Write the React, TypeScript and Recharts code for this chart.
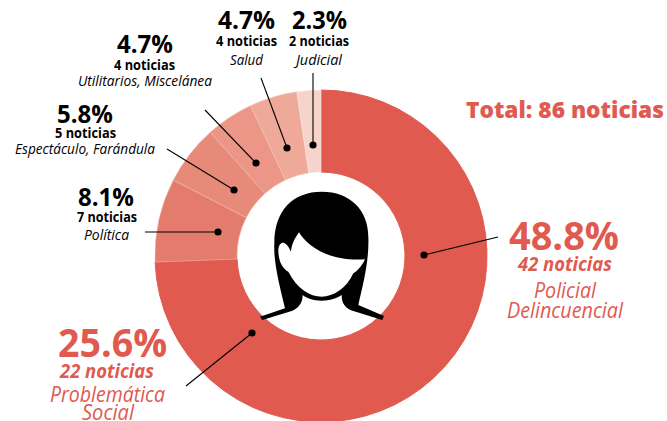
import React from "react";
import { PieChart, Pie, Cell } from "recharts";

const categories = ["Policial Delincuencial", "Problemática Social", "Política", "Espectáculo, Farándula", "Utilitarios, Miscelánea", "Salud", "Judicial"];
const counts = [42, 22, 7, 5, 4, 4, 2];
const total = 86;
const sliceColors = ["#E05A50", "#E05A50", "#E37C6C", "#E78A7A", "#EB9686", "#EFA999", "#F7D4CB"];
const sliceStrokes = ["#E05A50", "#E05A50", "#F0B5A8", "#F0B5A8", "#F0B5A8", "#F5C4B8", "#FBE6E0"];

const tableData = categories.map((name, i) => ({ name, value: counts[i] }));

type Leader = [number, number, number, number];
const leaders: Leader[] = [
  [424, 255, 498, 237],
  [252, 333, 186, 386],
  [218, 232, 145, 232],
  [234, 190, 167, 149],
  [256, 163, 205, 110],
  [287, 148, 261, 78],
  [313, 145, 313, 73],
];

// Layout of each category's text block: [left, right, baseline] of every line.
type Box = [number, number, number];
const blocks: { pct: Box; cnt: Box; cat: Box[]; lines?: string[]; big: boolean }[] = [
  { pct: [509, 619, 250], cnt: [518, 612, 271], cat: [[534, 596, 298], [507, 623, 318]], lines: ["Policial", "Delincuencial"], big: true },
  { pct: [58, 167, 357], cnt: [60, 154, 378], cat: [[50, 165, 402], [82, 134, 420]], lines: ["Problemática", "Social"], big: true },
  { pct: [78, 134, 206], cnt: [77, 137, 222], cat: [[84, 129, 240]], big: false },
  { pct: [57, 113, 123], cnt: [55, 116, 138], cat: [[15, 155, 154]], big: false },
  { pct: [117, 173, 53], cnt: [114, 175, 70], cat: [[78, 212, 86]], big: false },
  { pct: [218, 275, 29], cnt: [216, 277, 46], cat: [[230, 263, 65]], big: false },
  { pct: [292, 347, 29], cnt: [289, 349, 46], cat: [[296, 342, 65]], big: false },
];

const RED = "#E05A50";
const FONT = "'Open Sans', 'Noto Sans', sans-serif";

function Line({ box, text, size, weight, italic, fill }: { box: Box; text: string; size: number; weight: number; italic?: boolean; fill: string }) {
  return (
    <text
      x={box[0]}
      y={box[2]}
      fontFamily={FONT}
      fontSize={size}
      fontWeight={weight}
      fontStyle={italic ? "italic" : "normal"}
      fill={fill}
      textLength={box[1] - box[0]}
      lengthAdjust="spacingAndGlyphs"
    >
      {text}
    </text>
  );
}

function Figure() {
  return (
    <g transform="translate(230,170) scale(0.3333)">
      <path
        fill="#000"
        d="M90 440 L165 415 C150 350 130 280 133 220 C133 120 190 65 275 65 C360 65 415 120 415 200 C418 270 400 340 385 405 L462 438 L457 450 L370 423 C345 415 335 400 335 375 C320 385 300 392 275 392 C250 392 230 385 218 375 C218 400 205 415 185 423 L97 450 Z"
      />
      <path
        fill="#fff"
        d="M207 187 C230 225 290 275 405 268 C395 290 380 305 370 310 C350 355 310 380 275 380 C240 380 200 355 175 305 C155 295 145 270 145 240 C147 215 165 205 183 245 C185 220 195 205 207 187 Z"
      />
    </g>
  );
}

function SliceAnnotation({ index }: { index: number }) {
  const l = leaders[index];
  const b = blocks[index];
  const fill = b.big ? RED : "#000";
  const pct = ((counts[index] / total) * 100).toFixed(1) + "%";
  const lines = b.lines ?? [categories[index]];
  return (
    <g>
      {index === 0 && <Figure />}
      {index === 0 && (
        <text x={466} y={118} fontFamily={FONT} fontSize={23.5} fontWeight={800} fill={RED} textLength={198} lengthAdjust="spacingAndGlyphs">
          {`Total: ${total} noticias`}
        </text>
      )}
      <line x1={l[0]} y1={l[1]} x2={l[2]} y2={l[3]} stroke="#000" strokeWidth={1.1} />
      <circle cx={l[0]} cy={l[1]} r={3.6} fill="#000" />
      <Line box={b.pct} text={pct} size={b.big ? 40 : 25} weight={700} fill={fill} />
      <Line box={b.cnt} text={`${counts[index]} noticias`} size={b.big ? 20 : 14} weight={700} italic={b.big} fill={fill} />
      {b.cat.map((box, j) => (
        <Line key={j} box={box} text={lines[j]} size={b.big ? 21 : 14.5} weight={400} italic fill={fill} />
      ))}
    </g>
  );
}

export default function App() {
  return (
    <div style={{ position: "absolute", left: 0, top: 0, width: 667, height: 421, overflow: "hidden", background: "#fff" }}>
      <PieChart width={667} height={421} margin={{ top: 0, right: 0, bottom: 0, left: 0 }}>
        <Pie
          data={tableData}
          dataKey="value"
          nameKey="name"
          cx={321}
          cy={256}
          innerRadius={84}
          outerRadius={166}
          startAngle={90}
          endAngle={-270}
          isAnimationActive={false}
          labelLine={false}
          label={(props: { index: number }) => <SliceAnnotation key={props.index} index={props.index} />}
        >
          {tableData.map((d, i) => (
            <Cell key={d.name} fill={sliceColors[i]} stroke={sliceStrokes[i]} strokeWidth={i < 2 ? 1 : 0.6} />
          ))}
        </Pie>
      </PieChart>
    </div>
  );
}
